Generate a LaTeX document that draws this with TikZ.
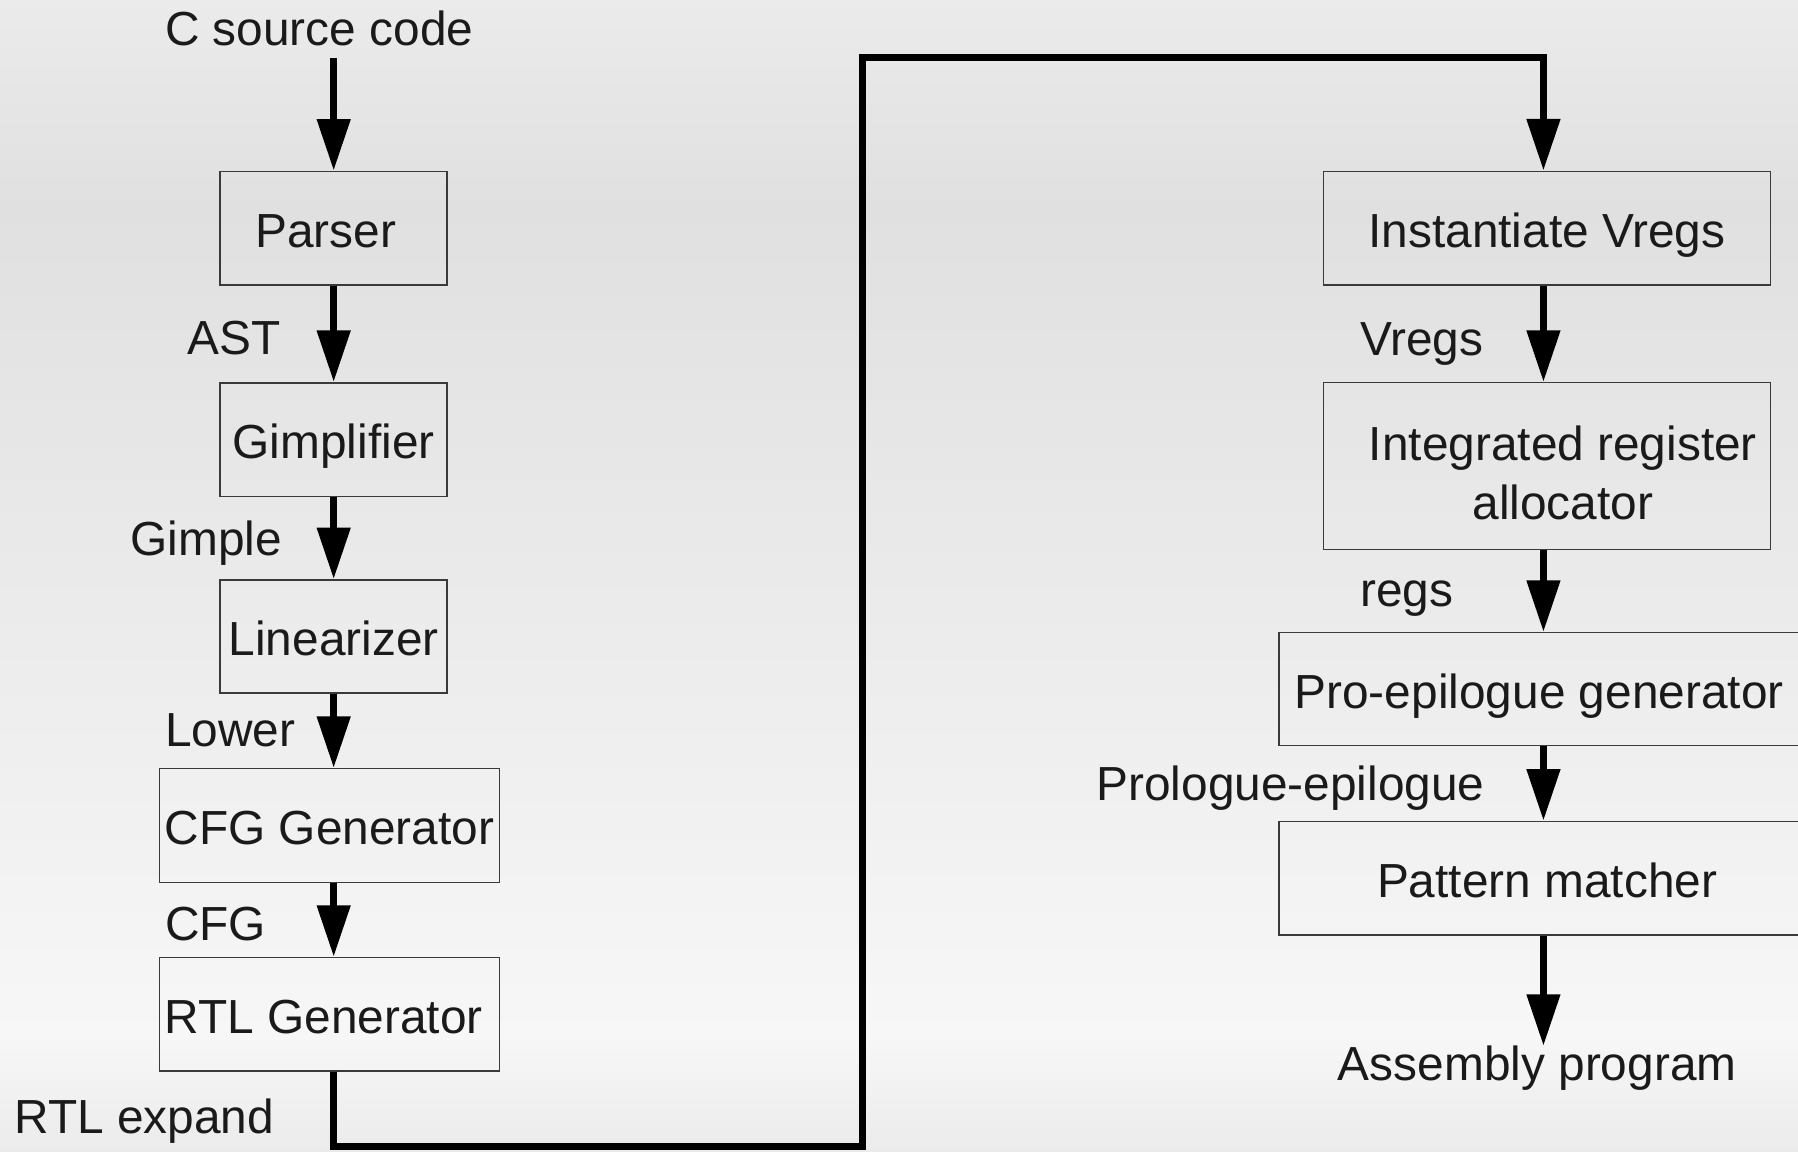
\documentclass[tikz,border=0pt]{standalone}
\usepackage{fontspec}
\setmainfont{Liberation Sans}
\usetikzlibrary{arrows.meta}
\definecolor{ink}{HTML}{1A1A1A}
\definecolor{edge}{HTML}{3A3A3A}
\definecolor{bgA}{HTML}{EBEBEB}
\definecolor{bgB}{HTML}{E0E0E0}
\definecolor{bgC}{HTML}{F7F7F7}
\definecolor{bgD}{HTML}{EBEBEB}
\begin{document}
\begin{tikzpicture}[x=1pt,y=-1pt,
  font=\fontsize{41.7pt}{51.5pt}\selectfont, text=ink,
  stage/.style={draw=edge, line width=1.3pt, inner sep=0pt, text height=33pt, text depth=0pt},
  tag/.style={inner sep=0pt, anchor=base west},
  flow/.style={line width=6.5pt, line join=miter, -{Triangle[length=45pt,width=28pt]}}]

% page and soft vertical gradient
\path[use as bounding box] (0,0) rectangle (1568,1004);
\clip (0,0) rectangle (1568,1004);
\shade[top color=bgA, bottom color=bgB] (0,0) rectangle (1568,181);
\shade[top color=bgB, bottom color=bgC] (0,180) rectangle (1568,905);
\shade[top color=bgC, bottom color=bgD] (0,904) rectangle (1568,1004);

% front end stages
\node[stage, minimum width=198pt, minimum height=99pt] (parser) at (291,199) {Parser\hspace*{14pt}};
\node[stage, minimum width=198pt, minimum height=99pt] (gimp) at (291,383.3) {Gimplifier};
\node[stage, minimum width=198pt, minimum height=98.5pt] (lin) at (291,555) {Linearizer};
\node[stage, minimum width=296.3pt, minimum height=99pt] (cfg) at (287.4,719.9) {CFG Generator};
\node[stage, minimum width=296.3pt, minimum height=98.8pt] (rtl) at (287.4,884.5) {RTL Generator\hspace*{10pt}};

% back end stages
\node[stage, minimum width=390pt, minimum height=99pt] (inst) at (1349,198.9) {Instantiate Vregs};
\node[stage, minimum width=390pt, minimum height=145.3pt, align=center, text height=93.2pt] (ira) at (1349,406.4)
  {\hspace*{28pt}Integrated register\\\hspace*{28pt}allocator};
\node[stage, minimum width=453.6pt, minimum height=98.5pt] (pro) at (1342.2,601) {Pro-epilogue generator};
\node[stage, minimum width=467.6pt, minimum height=99pt] (pat) at (1349.2,765.9) {Pattern matcher};

% intermediate forms and end points
\node[tag] (src) at (143.7,39.4) {C source code};
\node[tag] (ast) at (163.5,309.5) {AST};
\node[tag] (gimple) at (113.5,484) {Gimple};
\node[tag] (lower) at (143.7,651) {Lower};
\node[tag] (cfgtag) at (143.7,820) {CFG};
\node[tag] (expand) at (12.5,988.5) {RTL expand};
\node[tag] (vregs) at (1186,310.4) {Vregs};
\node[tag] (regs) at (1186,528.6) {regs};
\node[tag] (prolog) at (956,698) {Prologue-epilogue};
\node[tag] (asm) at (1166.6,942.5) {Assembly program};

% data flow
\coordinate (lcol) at (291,0);
\coordinate (rcol) at (1346,0);
\coordinate (lowturn) at (752,1000);
\coordinate (topturn) at (752,50);
\draw[flow, shorten <=10.5pt] (src.south -| lcol) -- (parser.north);
\draw[flow] (parser.south) -- (gimp.north);
\draw[flow] (gimp.south) -- (lin.north);
\draw[flow] (lin.south) -- (lcol |- cfg.north);
\draw[flow] (cfg.south -| lcol) -- (lcol |- rtl.north);
\draw[flow] (rtl.south -| lcol) |- (lowturn) -- (topturn) -| (rcol |- inst.north);
\draw[flow] (inst.south -| rcol) -- (rcol |- ira.north);
\draw[flow] (ira.south -| rcol) -- (rcol |- pro.north);
\draw[flow] (pro.south -| rcol) -- (rcol |- pat.north);
\draw[flow] (pat.south -| rcol) -- (rcol |- asm.north);
\end{tikzpicture}
\end{document}
